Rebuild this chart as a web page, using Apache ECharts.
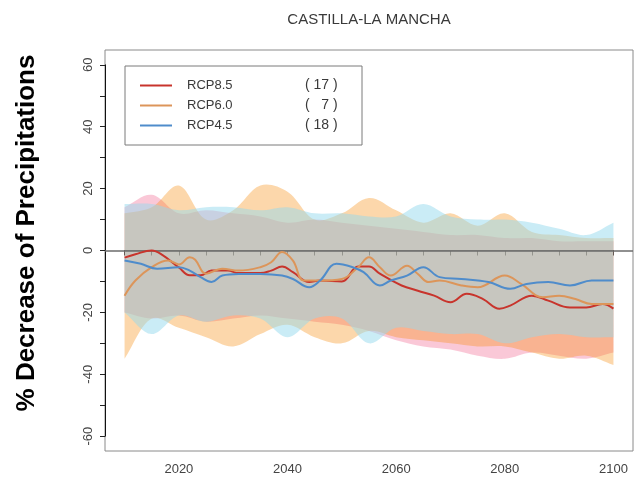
<!DOCTYPE html>
<html>
<head>
<meta charset="utf-8">
<script src="https://cdn.jsdelivr.net/npm/echarts@6/dist/echarts.min.js"></script>
<style>
  html, body { margin: 0; padding: 0; background: #fff; }
  #chart { width: 643px; height: 488px; }
</style>
</head>
<body>
<div id="chart"></div>
<script>
// ---- data -------------------------------------------------------------
const scenarioNames = ['RCP8.5', 'RCP6.0', 'RCP4.5'];
const modelCounts = [17, 7, 18];

const xTickLabels = [2020, 2040, 2060, 2080, 2100];
const yTickLabels = [-60, -40, -20, 0, 20, 40, 60];

// ensemble-mean curves (year, % change)
const rcp85Years  = [2010, 2012, 2015, 2017, 2020, 2022, 2024, 2026, 2029, 2031, 2035, 2037, 2039, 2041, 2044, 2046, 2050, 2053, 2055, 2057, 2061, 2064, 2067, 2070, 2073, 2076, 2079, 2081, 2085, 2088, 2092, 2095, 2098, 2100];
const rcp85Values = [-2.3, -1.2, 0, -1.5, -5.5, -8, -8, -6.5, -6.5, -7.3, -7.3, -6.5, -5.2, -7, -10.2, -9.7, -10, -5.2, -5.2, -7.5, -11.3, -13, -14.6, -16.7, -14, -15.7, -18.8, -17.8, -14.6, -16.2, -18.4, -18.4, -17.3, -18.8];

const rcp60Years  = [2010, 2012, 2015, 2018, 2020, 2022, 2023, 2025, 2028, 2031, 2035, 2037, 2039, 2041, 2043, 2046, 2050, 2053, 2055, 2057, 2059, 2062, 2064, 2066, 2068, 2072, 2075, 2080, 2083, 2087, 2090, 2093, 2096, 2100];
const rcp60Values = [-14.6, -9.7, -5.4, -3.2, -4.5, -2.2, -3, -7.5, -5.9, -6.5, -5.4, -3.8, -0.5, -3.3, -9.7, -9.7, -9.2, -5.4, -2.2, -5.4, -8.1, -4.9, -7.6, -10.2, -9.7, -11.3, -11.9, -8.1, -10.8, -15.1, -14.6, -15.7, -17.3, -17.3];

const rcp45Years  = [2010, 2013, 2016, 2020, 2022, 2024, 2026, 2028, 2031, 2035, 2039, 2041, 2044, 2046, 2049, 2052, 2054, 2057, 2059, 2062, 2065, 2068, 2072, 2077, 2081, 2084, 2088, 2092, 2096, 2100];
const rcp45Values = [-3.2, -4.3, -5.9, -5.4, -6.5, -8.6, -10.2, -8.1, -7.6, -7.6, -8.1, -9.2, -11.9, -9.7, -4.3, -5.4, -7, -11.3, -9.7, -8.1, -5.4, -8.6, -9.2, -10.2, -12.4, -10.8, -10.2, -11.3, -9.7, -9.7];

// model spread envelopes, sampled every 5 years
const bandYears = [2010, 2015, 2020, 2025, 2030, 2035, 2040, 2045, 2050, 2055, 2060, 2065, 2070, 2075, 2080, 2085, 2090, 2095, 2100];
const rcp85Upper = [14, 18, 12, 13, 12, 11, 9, 10, 9, 8, 7, 6, 5, 5, 4, 4, 3, 3, 3];
const rcp85Lower = [-20, -22, -21, -23, -22, -21, -22, -23, -24, -26, -29, -31, -32, -34, -35, -33, -34, -35, -33];
const rcp60Upper = [12, 14, 21, 10, 13, 21, 19, 10, 12, 17, 13, 9, 12, 8, 12, 6, 5, 4, 4];
const rcp60Lower = [-35, -22, -25, -28, -31, -27, -24, -28, -30, -26, -28, -29, -30, -31, -31, -33, -35, -34, -37];
const rcp45Upper = [15, 15, 13, 14, 14, 13, 14, 12, 12, 11, 11, 15, 11, 10, 10, 9, 7, 5, 9];
const rcp45Lower = [-20, -27, -21, -23, -21, -22, -28, -22, -22, -30, -25, -26, -27, -27, -30, -28, -27, -28, -28];

// ---- styling ----------------------------------------------------------
const lineColors = ['#c8342c', '#dc955a', '#4f8ccb'];
const bandColors = ['rgba(238,72,122,0.30)', 'rgba(246,140,13,0.35)', 'rgba(150,218,238,0.50)'];
const FONT = "'Liberation Sans', Arial, Helvetica, sans-serif";

// plotting frame (padded range) and the tick range inside it
const frame = { left: 105, top: 50, width: 528, height: 401 };
const xPad = [2006.4, 2103.6], yPad = [-64.8, 64.8];
const xTick = [2010, 2100], yTick = [-60, 60];
const pxX = v => frame.left + (v - xPad[0]) / (xPad[1] - xPad[0]) * frame.width;
const pxY = v => frame.top + (yPad[1] - v) / (yPad[1] - yPad[0]) * frame.height;
const inner = {
  left: pxX(xTick[0]),
  top: pxY(yTick[1]),
  width: pxX(xTick[1]) - pxX(xTick[0]),
  height: pxY(yTick[0]) - pxY(yTick[1])
};
const xOffset = frame.top + frame.height - (inner.top + inner.height);
const yOffset = inner.left - frame.left;

const pairs = (xs, ys) => xs.map((x, i) => [x, ys[i]]);

// shaded spread between lower and upper envelope, drawn as one polygon
function bandSeries(upper, lower, color, withZero) {
  const s = {
    type: 'custom', xAxisIndex: 0, yAxisIndex: 0, silent: true, z: 1,
    data: [[bandYears[0], upper[0]]],
    renderItem: function (params, api) {
      const top = bandYears.map((x, i) => api.coord([x, upper[i]]));
      const bot = bandYears.map((x, i) => api.coord([x, lower[i]])).reverse();
      // repeat the end vertices so the vertical edges stay straight
      const pts = [top[0]].concat(top, [top[top.length - 1]], [bot[0]], bot, [bot[bot.length - 1]]);
      return {
        type: 'polygon',
        shape: { points: pts, smooth: 0.35 },
        style: { fill: color }
      };
    }
  };
  if (withZero) {
    s.markLine = {
      silent: true, symbol: 'none', label: { show: false },
      lineStyle: { color: '#6b6b6b', width: 1.6, type: 'solid' },
      data: [{ yAxis: 0 }]
    };
  }
  return s;
}

function meanSeries(name, xs, ys, color) {
  return {
    name: name, type: 'line', xAxisIndex: 0, yAxisIndex: 0,
    data: pairs(xs, ys), symbol: 'none', smooth: 0.4,
    lineStyle: { color: color, width: 2 }, itemStyle: { color: color }, z: 5
  };
}

const countText = n => '( ' + String(n).padStart(2, '\u2007') + ' )';

const chart = echarts.init(document.getElementById('chart'), null, { renderer: 'canvas' });
chart.setOption({
  animation: false,
  backgroundColor: '#fff',
  textStyle: { fontFamily: FONT },
  title: {
    text: 'CASTILLA-LA MANCHA',
    left: 364, top: 7, textAlign: 'center',
    textStyle: { fontFamily: FONT, fontSize: 15, fontWeight: 'normal', color: '#3a3a3a' }
  },
  grid: [
    { left: frame.left, top: frame.top, width: frame.width, height: frame.height,
      show: true, borderColor: '#8a8a8a', borderWidth: 1, backgroundColor: 'transparent' },
    { left: inner.left, top: inner.top, width: inner.width, height: inner.height, show: false }
  ],
  xAxis: [
    { gridIndex: 0, type: 'value', min: xPad[0], max: xPad[1], show: false },
    { gridIndex: 1, type: 'value', min: xTick[0], max: xTick[1], interval: 5, offset: xOffset,
      axisLine: { show: true, lineStyle: { color: '#111', width: 1 } },
      axisTick: { show: true, length: 5, lineStyle: { color: '#222', width: 1 } },
      splitLine: { show: false },
      axisLabel: { color: '#444', fontSize: 13, margin: 12, fontFamily: FONT,
        formatter: v => xTickLabels.includes(v) ? String(v) : '' } }
  ],
  yAxis: [
    { gridIndex: 0, type: 'value', min: yPad[0], max: yPad[1], show: false },
    { gridIndex: 1, type: 'value', min: yTick[0], max: yTick[1], interval: 20, offset: yOffset,
      axisLine: { show: true, lineStyle: { color: '#111', width: 1 } },
      axisTick: { show: true, length: 5, lineStyle: { color: '#222', width: 1 } },
      minorTick: { show: true, splitNumber: 2, length: 5, lineStyle: { color: '#222', width: 1 } },
      splitLine: { show: false },
      axisLabel: { color: '#444', fontSize: 13, margin: 10, rotate: 90, fontFamily: FONT,
        formatter: v => yTickLabels.includes(v) ? String(v) : '' } }
  ],
  legend: {
    data: scenarioNames,
    orient: 'vertical',
    left: 125, top: 66,
    padding: [12, 15, 12, 15],
    itemGap: 5, itemWidth: 32, itemHeight: 2,
    icon: 'rect',
    backgroundColor: '#fff',
    borderColor: '#7a7a7a', borderWidth: 1, borderRadius: 0,
    selectedMode: false,
    formatter: name => '{n|' + name + '}{c|' + countText(modelCounts[scenarioNames.indexOf(name)]) + '}',
    textStyle: {
      fontFamily: FONT, fontSize: 13, color: '#3a3a3a', lineHeight: 15,
      rich: {
        n: { width: 118, padding: [0, 0, 0, 10], fontSize: 13, lineHeight: 15, color: '#3a3a3a', fontFamily: FONT },
        c: { width: 42, fontSize: 14, lineHeight: 15, color: '#3a3a3a', fontFamily: FONT }
      }
    }
  },
  graphic: [
    { type: 'text', x: 27, y: 233, rotation: Math.PI / 2,
      style: { text: '% Decrease of Precipitations', fill: '#000',
        font: 'bold 26px ' + FONT, textAlign: 'center', textVerticalAlign: 'middle' } }
  ],
  series: [
    bandSeries(rcp85Upper, rcp85Lower, bandColors[0], false),
    bandSeries(rcp60Upper, rcp60Lower, bandColors[1], false),
    bandSeries(rcp45Upper, rcp45Lower, bandColors[2], true),
    meanSeries('RCP8.5', rcp85Years, rcp85Values, lineColors[0]),
    meanSeries('RCP6.0', rcp60Years, rcp60Values, lineColors[1]),
    meanSeries('RCP4.5', rcp45Years, rcp45Values, lineColors[2])
  ]
});
</script>
</body>
</html>
